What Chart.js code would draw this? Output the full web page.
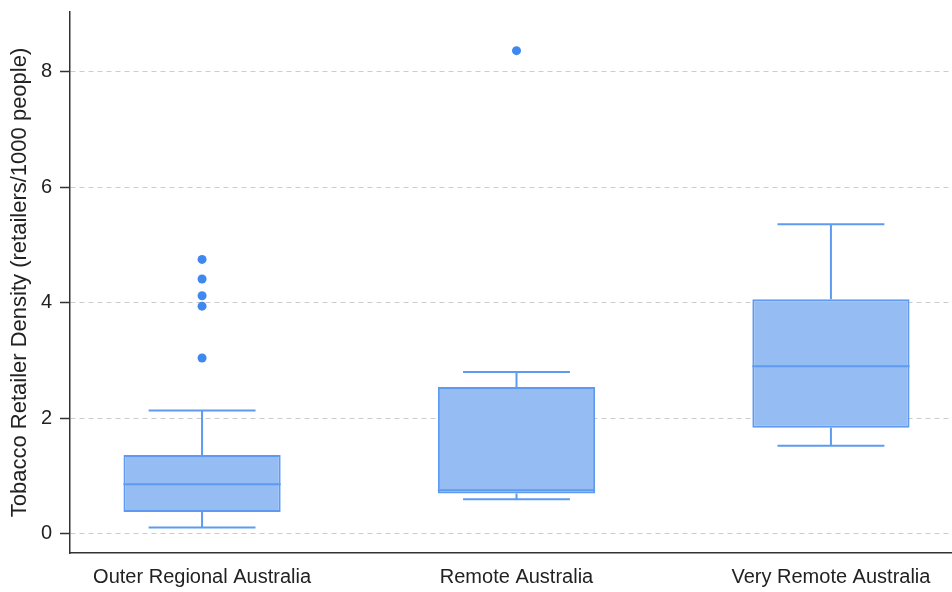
<!DOCTYPE html>
<html>
<head>
<meta charset="utf-8">
<script src="https://cdn.jsdelivr.net/npm/chart.js@4/dist/chart.umd.min.js"></script>
<style>
  html, body { margin: 0; padding: 0; background: #ffffff; }
  #wrap { width: 952px; height: 592px; position: relative; }
</style>
</head>
<body>
<div id="wrap"><canvas id="c"></canvas></div>
<script>
// Tobacco retailer density by remoteness area (box-and-whisker summary)
const categories = ['Outer Regional Australia', 'Remote Australia', 'Very Remote Australia'];
const whiskerLow  = [0.10, 0.59, 1.52];
const quartile1   = [0.37, 0.69, 1.83];
const median      = [0.85, 0.75, 2.90];
const quartile3   = [1.36, 2.54, 4.06];
const whiskerHigh = [2.13, 2.80, 5.36];
const outliers    = [[3.04, 3.94, 4.12, 4.41, 4.75], [8.37], []];
const yTickValues = [0, 2, 4, 6, 8];

const FONT = 'Liberation Sans, Arial, Helvetica, sans-serif';
const BOX_FILL = '#95bdf4';
const BOX_LINE = '#5e9bf0';
const POINT_COLOR = '#3f88f0';
const CAP_HALF = 0.17; // whisker cap half-width in category units

const boxData = categories.map((c, i) => ({ x: i + 1, y: [quartile1[i], quartile3[i]] }));
const outlierData = outliers.flatMap((vals, i) => vals.map(v => ({ x: i + 1, y: v })));

// Whisker stems, caps and median lines drawn through the chart's scales
const boxPlotLines = {
  id: 'boxPlotLines',
  afterDatasetsDraw(chart) {
    const { ctx, scales: { x, y } } = chart;
    const meta = chart.getDatasetMeta(0);
    ctx.save();
    ctx.strokeStyle = BOX_LINE;
    ctx.lineWidth = 2;
    categories.forEach((c, i) => {
      const cx = x.getPixelForValue(i + 1);
      const capL = x.getPixelForValue(i + 1 - CAP_HALF);
      const capR = x.getPixelForValue(i + 1 + CAP_HALF);
      const yLo = y.getPixelForValue(whiskerLow[i]);
      const yHi = y.getPixelForValue(whiskerHigh[i]);
      const yQ1 = y.getPixelForValue(quartile1[i]);
      const yQ3 = y.getPixelForValue(quartile3[i]);
      const yMed = y.getPixelForValue(median[i]);
      ctx.beginPath();
      // upper whisker
      ctx.moveTo(cx, yQ3); ctx.lineTo(cx, yHi);
      ctx.moveTo(capL, yHi); ctx.lineTo(capR, yHi);
      // lower whisker
      ctx.moveTo(cx, yQ1); ctx.lineTo(cx, yLo);
      ctx.moveTo(capL, yLo); ctx.lineTo(capR, yLo);
      ctx.stroke();
      // median across the box
      const bar = meta.data[i];
      const half = bar.width / 2;
      ctx.beginPath();
      ctx.moveTo(bar.x - half, yMed); ctx.lineTo(bar.x + half, yMed);
      ctx.stroke();
    });
    ctx.restore();
  }
};

function noScalePadding(s) {
  s.paddingTop = 0; s.paddingBottom = 0; s.paddingLeft = 0; s.paddingRight = 0;
}

new Chart(document.getElementById('c'), {
  type: 'bar',
  data: {
    datasets: [
      {
        type: 'bar',
        data: boxData,
        backgroundColor: BOX_FILL,
        borderColor: BOX_LINE,
        borderWidth: 2,
        borderSkipped: false,
        categoryPercentage: 1,
        barPercentage: 0.5,
        order: 2
      },
      {
        type: 'scatter',
        data: outlierData,
        backgroundColor: POINT_COLOR,
        borderColor: POINT_COLOR,
        pointRadius: 4.5,
        pointBorderWidth: 0,
        order: 1
      }
    ]
  },
  options: {
    responsive: true,
    maintainAspectRatio: false,
    animation: false,
    layout: { autoPadding: false, padding: { top: 12, right: 0, bottom: 0, left: 0 } },
    plugins: {
      legend: { display: false },
      tooltip: { enabled: false }
    },
    scales: {
      x: {
        type: 'linear',
        min: 0.58,
        max: 3.385,
        offset: false,
        afterBuildTicks: s => { s.ticks = categories.map((c, i) => ({ value: i + 1 })); },
        afterFit: s => { s.height = 39; noScalePadding(s); },
        ticks: {
          callback: v => categories[v - 1],
          color: '#222222',
          font: { family: FONT, size: 20 },
          padding: 12,
          maxRotation: 0,
          autoSkip: false
        },
        grid: { display: false, drawTicks: false },
        border: { display: true, color: '#333333', width: 1.5 }
      },
      y: {
        type: 'linear',
        min: -0.34,
        max: 9.04,
        afterBuildTicks: s => { s.ticks = yTickValues.map(v => ({ value: v })); },
        afterFit: s => { s.width = 70; noScalePadding(s); },
        ticks: {
          color: '#222222',
          font: { family: FONT, size: 20 },
          padding: 8
        },
        grid: {
          color: '#cccccc',
          lineWidth: 1,
          tickLength: 10,
          tickColor: '#333333',
          tickWidth: 1.5,
          tickBorderDash: []
        },
        border: { display: true, color: '#333333', width: 1.5, dash: [5, 4] },
        title: {
          display: true,
          text: 'Tobacco Retailer Density (retailers/1000 people)',
          color: '#222222',
          font: { family: FONT, size: 22 },
          padding: { top: 7, bottom: 0 }
        }
      }
    }
  },
  plugins: [boxPlotLines]
});
</script>
</body>
</html>
